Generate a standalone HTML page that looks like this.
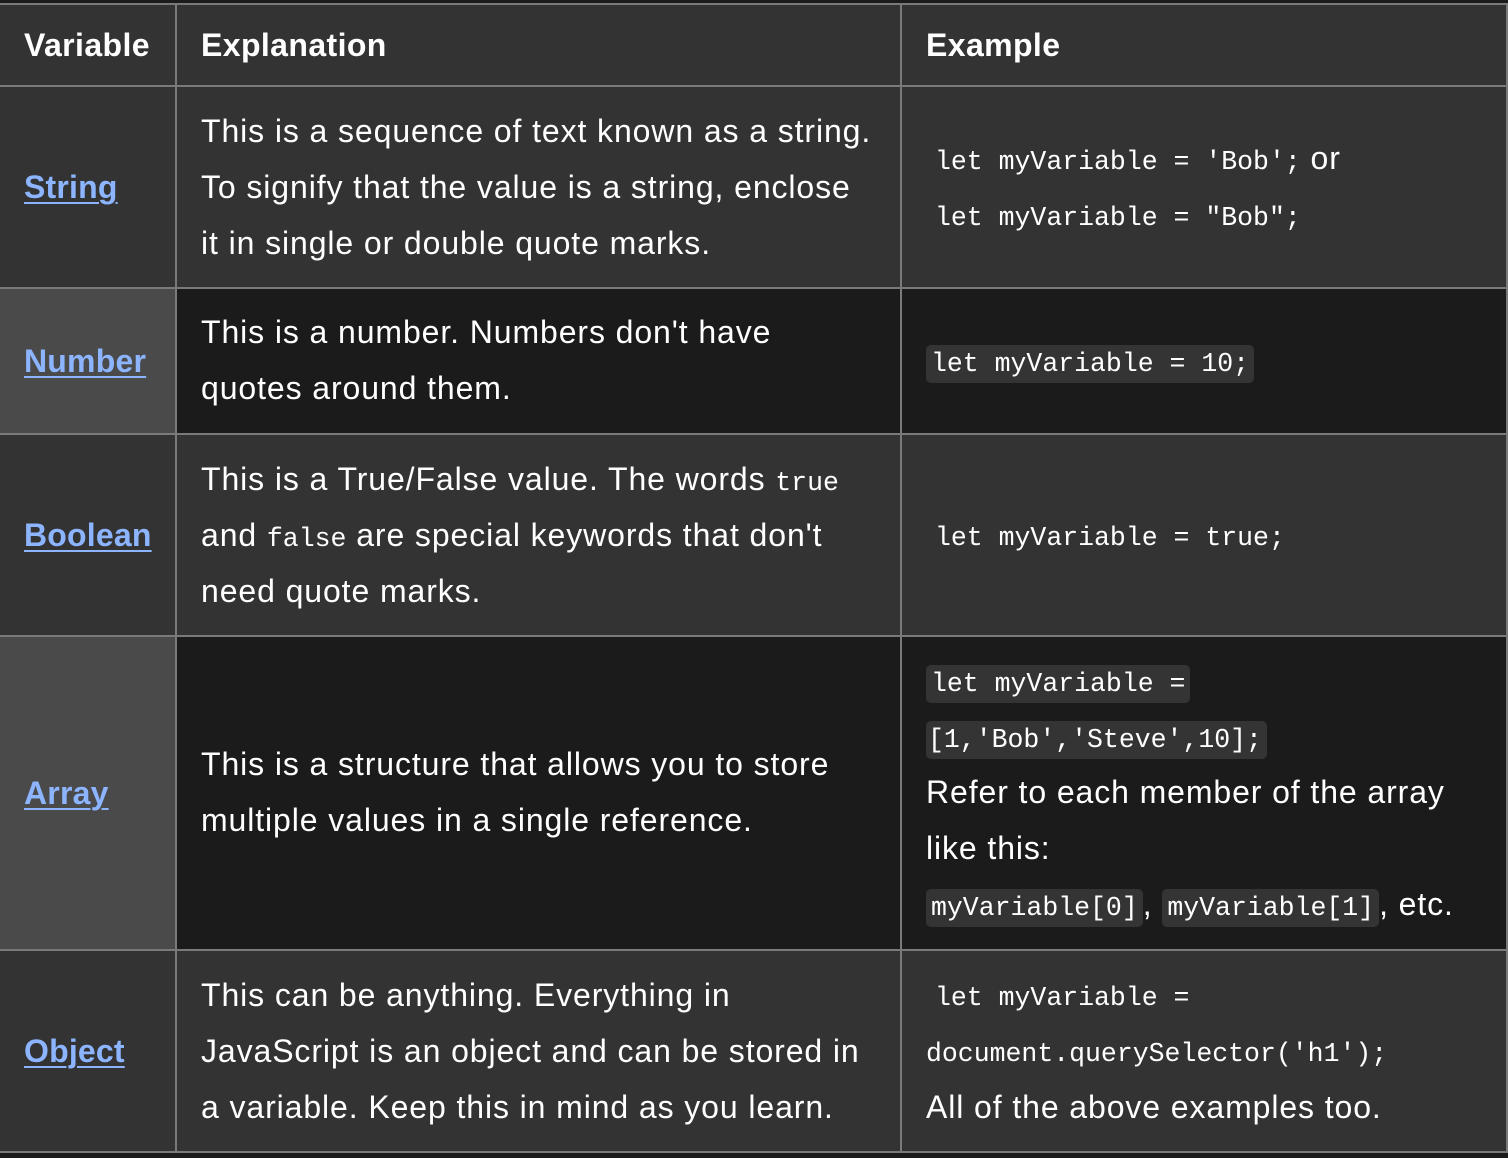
<!DOCTYPE html>
<html><head><meta charset="utf-8"><style>
html,body{margin:0;padding:0;}
body{width:1508px;height:1158px;background:#1b1b1b;position:relative;overflow:hidden;font-family:"Liberation Sans",sans-serif;color:#fff;}
.c{position:absolute;}
.l{position:absolute;white-space:nowrap;line-height:56px;height:56px;font-size:32px;letter-spacing:0.9px;}
.h{font-weight:bold;font-size:32px;letter-spacing:0.4px;}
.a{color:#8cb4ff;font-weight:bold;font-size:32px;letter-spacing:0.2px;text-decoration:underline;text-underline-offset:4px;text-decoration-thickness:2px;}
code{font-family:"Liberation Mono",monospace;font-size:26.5px;letter-spacing:0;}
.b{background:#343434;border-radius:5px;padding:4px 5px;}
.hl{position:absolute;left:0;width:1508px;height:2px;background:#7a7a7a;}
.vl{position:absolute;top:4px;width:2px;height:1148px;background:#7a7a7a;}
</style></head><body>
<div class="c" style="left:0;top:4px;width:1508px;height:82px;background:#333"></div>
<div class="c" style="left:0;top:86px;width:1508px;height:202px;background:#333"></div>
<div class="c" style="left:0;top:288px;width:176px;height:146px;background:#4a4a4a"></div>
<div class="c" style="left:176px;top:288px;width:1332px;height:146px;background:#1b1b1b"></div>
<div class="c" style="left:0;top:434px;width:1508px;height:202px;background:#333"></div>
<div class="c" style="left:0;top:636px;width:176px;height:314px;background:#4a4a4a"></div>
<div class="c" style="left:176px;top:636px;width:1332px;height:314px;background:#1b1b1b"></div>
<div class="c" style="left:0;top:950px;width:1508px;height:202px;background:#333"></div>
<div class="hl" style="top:3px"></div>
<div class="hl" style="top:85px"></div>
<div class="hl" style="top:287px"></div>
<div class="hl" style="top:433px"></div>
<div class="hl" style="top:635px"></div>
<div class="hl" style="top:949px"></div>
<div class="hl" style="top:1151px"></div>
<div class="vl" style="left:175px"></div>
<div class="vl" style="left:900px"></div>
<div class="vl" style="left:1506px"></div>

<div class="l h" style="left:24px;top:17px">Variable</div>
<div class="l h" style="left:201px;top:17px">Explanation</div>
<div class="l h" style="left:926px;top:17px">Example</div>

<div class="l a" style="left:24px;top:159px">String</div>
<div class="l" style="left:201px;top:103px">This is a sequence of text known as a string.</div>
<div class="l" style="left:201px;top:159px">To signify that the value is a string, enclose</div>
<div class="l" style="left:201px;top:215px">it in single or double quote marks.</div>
<div class="l" style="left:935px;top:130px"><code>let myVariable = 'Bob';</code> or</div>
<div class="l" style="left:935px;top:186px"><code>let myVariable = "Bob";</code></div>

<div class="l a" style="left:24px;top:333px">Number</div>
<div class="l" style="left:201px;top:304px">This is a number. Numbers don't have</div>
<div class="l" style="left:201px;top:360px">quotes around them.</div>
<div class="l" style="left:926px;top:332px"><code class="b">let myVariable = 10;</code></div>

<div class="l a" style="left:24px;top:507px">Boolean</div>
<div class="l" style="left:201px;top:451px">This is a True/False value. The words <code>true</code></div>
<div class="l" style="left:201px;top:507px">and <code>false</code> are special keywords that don't</div>
<div class="l" style="left:201px;top:563px">need quote marks.</div>
<div class="l" style="left:935px;top:506px"><code>let myVariable = true;</code></div>

<div class="l a" style="left:24px;top:765px">Array</div>
<div class="l" style="left:201px;top:736px">This is a structure that allows you to store</div>
<div class="l" style="left:201px;top:792px">multiple values in a single reference.</div>
<div class="l" style="left:926px;top:652px"><code class="b">let myVariable =</code></div>
<div class="l" style="left:926px;top:708px"><code class="b" style="padding-left:2px">[1,'Bob','Steve',10];</code></div>
<div class="l" style="left:926px;top:764px">Refer to each member of the array</div>
<div class="l" style="left:926px;top:820px">like this:</div>
<div class="l" style="left:926px;top:876px"><code class="b">myVariable[0]</code>, <code class="b">myVariable[1]</code>, etc.</div>

<div class="l a" style="left:24px;top:1023px">Object</div>
<div class="l" style="left:201px;top:967px">This can be anything. Everything in</div>
<div class="l" style="left:201px;top:1023px">JavaScript is an object and can be stored in</div>
<div class="l" style="left:201px;top:1079px">a variable. Keep this in mind as you learn.</div>
<div class="l" style="left:935px;top:966px"><code>let myVariable =</code></div>
<div class="l" style="left:926px;top:1022px"><code>document.querySelector('h1');</code></div>
<div class="l" style="left:926px;top:1079px">All of the above examples too.</div>
</body></html>
